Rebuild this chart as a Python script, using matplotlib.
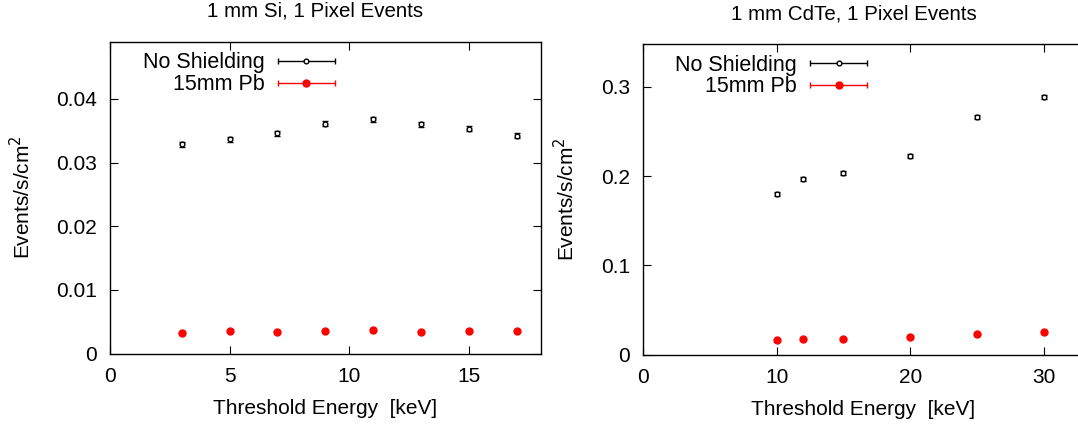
import numpy as np
import matplotlib
matplotlib.use("Agg")
import matplotlib.pyplot as plt
from matplotlib.legend_handler import HandlerErrorbar
from matplotlib.container import ErrorbarContainer

plt.rcParams['font.family'] = ['Liberation Sans', 'DejaVu Sans']
plt.rcParams['font.size'] = 15

# 1 mm Si, 1 pixel events
si_energy = [3, 5, 7, 9, 11, 13, 15, 17]
si_noshield = [0.0329, 0.0337, 0.0346, 0.0361, 0.0368, 0.0360, 0.0353, 0.0342]
si_noshield_err = [0.0004, 0.0004, 0.0004, 0.0004, 0.0004, 0.0004, 0.0004, 0.0004]
si_pb = [0.00330, 0.00355, 0.00345, 0.00355, 0.00370, 0.00345, 0.00360, 0.00355]
si_pb_err = [0.0002, 0.0002, 0.0002, 0.0002, 0.0002, 0.0002, 0.0002, 0.0002]

# 1 mm CdTe, 1 pixel events
cdte_energy = [10, 12, 15, 20, 25, 30]
cdte_noshield = [0.1800, 0.1965, 0.2040, 0.2225, 0.2665, 0.2885]
cdte_noshield_err = [0.0022, 0.0022, 0.0022, 0.0022, 0.0025, 0.0025]
cdte_pb = [0.0165, 0.0172, 0.0176, 0.0198, 0.0228, 0.0250]
cdte_pb_err = [0.0012, 0.0012, 0.0012, 0.0012, 0.0014, 0.0014]

labels = ['No Shielding', '15mm Pb']

W, H = 1078, 425
fig = plt.figure(figsize=(W / 100, H / 100), dpi=100)

ax1 = fig.add_axes([110 / W, 1 - 353.5 / H, 430.7 / W, 311.8 / H])
ax2 = fig.add_axes([643 / W, 1 - 354.7 / H, 441 / W, 310.7 / H])

black_style = dict(fmt='o', color='black', mfc='white', mec='black', ms=3.4,
                   mew=1.0, elinewidth=1.0, capsize=2.2, capthick=1.0)
red_style = dict(fmt='o', color='red', mfc='red', mec='red', ms=5,
                 elinewidth=1.0, capsize=2.2, capthick=1.0)


def panel(ax, x, y0, e0, y1, e1, xlim, ylim, yticks, xticks, title, title_x,
          title_pad, leg_anchor, right_ticks):
    ax.errorbar(x, y0, yerr=e0, **black_style)
    ax.errorbar(x, y1, yerr=e1, **red_style)
    # proxies for a gnuplot style key: horizontal bar with caps
    proxies = []
    for st in [black_style, red_style]:
        c = ax.errorbar([np.nan], [np.nan], xerr=[0.0], **st)
        proxies.append(c)
    ax.set_xlim(*xlim)
    ax.set_ylim(*ylim)
    ax.set_xticks(xticks)
    ax.set_yticks(yticks)
    ax.set_yticklabels([('%g' % t) for t in yticks])
    ax.tick_params(direction='in', length=6, width=0.8, top=True, right=right_ticks,
                   labelsize=15, pad=9.5)
    for s in ax.spines.values():
        s.set_linewidth(1.0)
    ax.set_xlabel('Threshold Energy  [keV]', labelpad=9.5)
    ax.set_ylabel('Events/s/cm$^2$', labelpad=16)
    ax.set_title(title, x=title_x, pad=title_pad, fontsize=14.8)
    ax.legend(proxies, labels, loc='upper right', bbox_to_anchor=leg_anchor,
              markerfirst=False, frameon=False, borderpad=0, borderaxespad=0,
              handlelength=2.65, handletextpad=0.6, labelspacing=0.04,
              fontsize=15.5,
              handler_map={ErrorbarContainer: HandlerErrorbar(xerr_size=1.325)})


panel(ax1, si_energy, si_noshield, si_noshield_err, si_pb, si_pb_err,
      (0, 18), (0, 0.049), [0, 0.01, 0.02, 0.03, 0.04], [0, 5, 10, 15],
      '1 mm Si, 1 Pixel Events', 0.476, 18.5, (0.522, 0.966), True)
panel(ax2, cdte_energy, cdte_noshield, cdte_noshield_err, cdte_pb, cdte_pb_err,
      (0, 33), (0, 0.348), [0, 0.1, 0.2, 0.3], [0, 10, 20, 30],
      '1 mm CdTe, 1 Pixel Events', 0.478, 18, (0.508, 0.966), False)

fig.savefig('out.png', dpi=100)
